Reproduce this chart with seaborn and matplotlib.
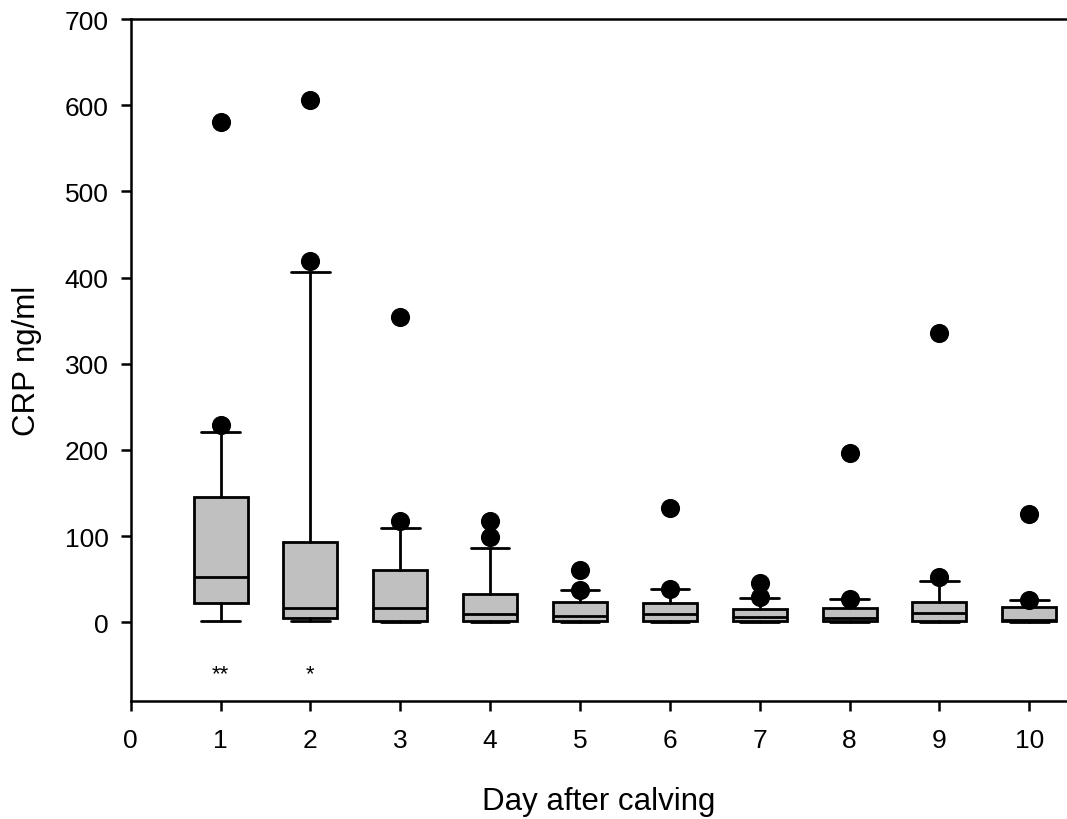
import pandas as pd
import matplotlib
matplotlib.use("Agg")
import matplotlib.pyplot as plt
import seaborn as sns

# box statistics (SigmaPlot style: whiskers 10th/90th)
days = [1, 2, 3, 4, 5, 6, 7, 8, 9, 10]
q1 = [22, 4.6, 1.5, 1, 1, 1, 1, 1, 1, 1]
medians = [52, 16, 16.5, 9.5, 7, 9.5, 6.5, 5, 11, 2.5]
q3 = [145, 93, 61, 33, 24, 22.5, 15.5, 16, 24, 17.5]
whisker_low = [1.5, 1, 0.5, 0.5, 0.5, 0.5, 0.5, 0.5, 0.5, 0.5]
whisker_high = [221, 407, 109, 86, 37.5, 38.5, 28.5, 27, 47.5, 25.5]
outliers = [[229, 580], [419, 606], [117, 354], [99, 117], [38, 61],
            [39, 132], [29, 45], [27, 196], [53, 336], [26, 126]]
signif = {1: "**", 2: "*"}

sns.set_style("ticks")
plt.rcParams["font.family"] = ["Liberation Sans", "DejaVu Sans"]
plt.rcParams.update({"text.color": "black", "axes.labelcolor": "black",
                     "xtick.color": "black", "ytick.color": "black"})


def main():
    fig = plt.figure(figsize=(10.67, 8.2), dpi=100)
    ax = fig.add_axes([0.1225, 0.1443, 0.8775, 0.8313])

    stats = []
    for i, d in enumerate(days):
        stats.append({"q1": q1[i], "med": medians[i], "q3": q3[i],
                      "whislo": whisker_low[i], "whishi": whisker_high[i],
                      "fliers": [], "label": str(d)})

    lw = 2.0
    ax.bxp(stats, positions=days, widths=0.6, capwidths=0.43,
           patch_artist=True, showfliers=False, manage_ticks=False,
           boxprops=dict(facecolor="#c0c0c0", edgecolor="black", linewidth=lw),
           medianprops=dict(color="black", linewidth=lw),
           whiskerprops=dict(color="black", linewidth=lw),
           capprops=dict(color="black", linewidth=lw))

    # outlier points
    pts = pd.DataFrame([(d, v) for d, vals in zip(days, outliers) for v in vals],
                       columns=["day", "crp"])
    sns.scatterplot(data=pts, x="day", y="crp", ax=ax, color="black",
                    s=190, edgecolor="black", linewidth=0, zorder=5)

    for d, txt in signif.items():
        ax.text(d, -60, txt, ha="center", va="center", fontsize=16)

    ax.set_xlim(0, 10.42)
    ax.set_ylim(-91, 700)
    ax.set_xticks(range(0, 11))
    ax.set_yticks(range(0, 701, 100))

    for side in ["left", "bottom", "top"]:
        ax.spines[side].set_linewidth(1.8)
        ax.spines[side].set_color("black")
    ax.spines["right"].set_visible(False)
    ax.tick_params(axis="both", direction="out", length=7, width=1.8,
                   labelsize=19, pad=9)
    ax.tick_params(axis="x", pad=13)

    ax.set_xlabel("Day after calving", fontsize=22.5, labelpad=24)
    ax.set_ylabel("CRP ng/ml", fontsize=22.5, labelpad=16)

    fig.savefig("out.png", dpi=100)


if __name__ == "__main__":
    main()
